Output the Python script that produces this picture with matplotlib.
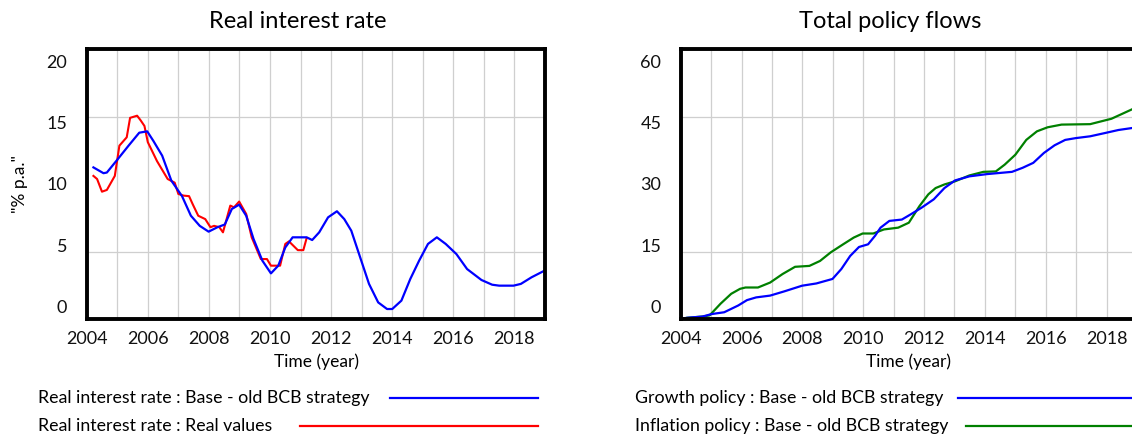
import matplotlib

matplotlib.use("Agg")
import matplotlib.pyplot as plt
from matplotlib.lines import Line2D
from matplotlib.ticker import FixedLocator, MultipleLocator

plt.rcParams["font.family"] = ["Lato", "DejaVu Sans"]

FIG_W, FIG_H = 1132, 437

# Real interest rate : Base - old BCB strategy
rate_base_years = [
    2004.22, 2004.55, 2004.66, 2005.02, 2005.37, 2005.72, 2005.98, 2006.18,
    2006.47, 2006.77, 2007.12, 2007.41, 2007.70, 2007.99, 2008.28, 2008.52,
    2008.75, 2008.99, 2009.22, 2009.46, 2009.75, 2010.03, 2010.27, 2010.50,
    2010.74, 2011.20, 2011.38, 2011.61, 2011.90, 2012.19, 2012.43, 2012.66,
    2012.95, 2013.24, 2013.54, 2013.83, 2014.00, 2014.30, 2014.59, 2014.88,
    2015.17, 2015.46, 2015.75, 2016.10, 2016.45, 2016.92, 2017.27, 2017.50,
    2017.97, 2018.21, 2018.56, 2019.00,
]
rate_base = [
    11.23, 10.80, 10.85, 11.85, 12.84, 13.80, 13.90, 13.20,
    12.10, 10.25, 9.10, 7.65, 6.90, 6.47, 6.80, 7.00,
    8.15, 8.47, 7.65, 5.93, 4.32, 3.38, 3.95, 5.30,
    6.05, 6.05, 5.85, 6.42, 7.53, 7.98, 7.40, 6.54,
    4.57, 2.60, 1.23, 0.74, 0.74, 1.36, 2.96, 4.32,
    5.56, 6.05, 5.56, 4.81, 3.70, 2.89, 2.54, 2.47,
    2.47, 2.60, 3.09, 3.60,
]

# Real interest rate : Real values
rate_real_years = [
    2004.22, 2004.34, 2004.50, 2004.66, 2004.92, 2005.07, 2005.31, 2005.42,
    2005.65, 2005.77, 2005.89, 2006.00, 2006.30, 2006.65, 2006.88, 2007.00,
    2007.17, 2007.35, 2007.47, 2007.65, 2007.88, 2008.05, 2008.17, 2008.34,
    2008.46, 2008.70, 2008.82, 2008.99, 2009.22, 2009.40, 2009.70, 2009.90,
    2010.03, 2010.33, 2010.50, 2010.62, 2010.91, 2011.09, 2011.20,
]
rate_real = [
    10.60, 10.37, 9.43, 9.56, 10.60, 12.84, 13.46, 14.90,
    15.06, 14.70, 14.30, 13.10, 11.70, 10.37, 10.10, 9.26,
    9.14, 9.10, 8.50, 7.65, 7.40, 6.80, 6.90, 6.80,
    6.42, 8.40, 8.27, 8.70, 7.78, 6.05, 4.44, 4.44,
    3.95, 3.95, 5.56, 5.75, 5.10, 5.10, 6.00,
]

# Growth policy : Base - old BCB strategy
growth_years = [
    2004.00, 2004.20, 2004.72, 2005.02, 2005.43, 2005.89, 2006.18, 2006.48,
    2006.94, 2007.41, 2007.99, 2008.46, 2008.99, 2009.28, 2009.57, 2009.86,
    2010.16, 2010.39, 2010.57, 2010.86, 2011.27, 2011.56, 2011.91, 2012.32,
    2012.67, 2013.02, 2013.49, 2014.07, 2014.89, 2015.24, 2015.59, 2015.94,
    2016.29, 2016.64, 2016.99, 2017.46, 2017.93, 2018.39, 2019.00,
]
growth = [
    0.0, 0.26, 0.55, 1.10, 1.50, 3.00, 4.20, 4.80,
    5.20, 6.15, 7.40, 7.90, 8.90, 11.10, 14.00, 16.00,
    16.60, 18.50, 20.30, 21.80, 22.10, 23.25, 24.70, 26.60,
    29.10, 30.80, 31.70, 32.20, 32.70, 33.60, 34.70, 36.90,
    38.60, 39.80, 40.20, 40.60, 41.30, 42.00, 42.60,
]

# Inflation policy : Base - old BCB strategy
inflation_years = [
    2004.00, 2004.20, 2004.72, 2004.95, 2005.31, 2005.66, 2005.95, 2006.13,
    2006.54, 2006.94, 2007.35, 2007.76, 2008.23, 2008.58, 2008.93, 2009.34,
    2009.69, 2009.98, 2010.33, 2010.68, 2011.15, 2011.50, 2011.85, 2012.14,
    2012.38, 2012.67, 2013.02, 2013.49, 2013.95, 2014.36, 2014.65, 2015.00,
    2015.36, 2015.71, 2016.06, 2016.52, 2017.46, 2018.16, 2019.00,
]
inflation = [
    0.0, 0.26, 0.55, 0.80, 3.40, 5.60, 6.70, 7.00,
    7.00, 8.10, 10.00, 11.60, 11.80, 12.90, 14.80, 16.60,
    18.10, 19.00, 19.00, 19.90, 20.30, 21.40, 25.10, 27.70,
    29.10, 29.90, 30.60, 31.90, 32.70, 32.80, 34.30, 36.50,
    39.80, 41.70, 42.60, 43.20, 43.30, 44.50, 47.10,
]

year_ticks = [2004, 2006, 2008, 2010, 2012, 2014, 2016, 2018]
rate_ticks = [0, 5, 10, 15, 20]
flow_ticks = [0, 15, 30, 45, 60]


def px_box(left, top, right, bottom):
    """Convert pixel box (origin top-left) into figure fractions."""
    return [left / FIG_W, 1 - bottom / FIG_H, (right - left) / FIG_W, (bottom - top) / FIG_H]


def style_axes(ax, yticks):
    """Vensim-like frame, grid every year, labels spread inside the frame."""
    ymin, ymax = yticks[0], yticks[-1]
    ax.set_xlim(2004, 2019)
    ax.set_ylim(ymin, ymax)
    ax.xaxis.set_major_locator(FixedLocator(year_ticks))
    ax.xaxis.set_minor_locator(MultipleLocator(1))
    ax.set_xticklabels([str(y) for y in year_ticks])
    # vensim draws the value labels slightly pulled towards the middle
    n = len(yticks) - 1
    span = ymax - ymin
    label_pos = [ymin + (0.048 + i * 0.904 / n) * span for i in range(n + 1)]
    ax.yaxis.set_major_locator(FixedLocator(label_pos))
    ax.set_yticklabels([str(v) for v in yticks])
    ax.yaxis.set_minor_locator(FixedLocator(yticks[1:-1]))
    ax.grid(False)
    ax.xaxis.grid(True, which="both", color="#cfcfcf", lw=0.9)
    ax.yaxis.grid(True, which="minor", color="#cfcfcf", lw=0.9)
    ax.tick_params(which="both", length=0, labelsize=13, colors="#111111")
    ax.tick_params(axis="y", pad=14)
    ax.tick_params(axis="x", pad=9)
    for sp in ax.spines.values():
        sp.set_linewidth(2.8)
        sp.set_color("black")
    ax.set_axisbelow(True)


fig = plt.figure(figsize=(FIG_W / 100, FIG_H / 100), dpi=100)

ax1 = fig.add_axes(px_box(86.7, 49, 545, 319))
ax1.plot(rate_real_years, rate_real, color="#ff0000", lw=1.5)
ax1.plot(rate_base_years, rate_base, color="#0000ff", lw=1.6)
style_axes(ax1, rate_ticks)

ax2 = fig.add_axes(px_box(680.7, 49, 1137, 319))
ax2.plot(inflation_years, inflation, color="#008000", lw=1.6)
ax2.plot(growth_years, growth, color="#0000ff", lw=1.6)
style_axes(ax2, flow_ticks)

# titles and axis labels
fig.text(298 / FIG_W, 1 - 22 / FIG_H, "Real interest rate", fontsize=17, ha="center", va="center")
fig.text(890 / FIG_W, 1 - 22 / FIG_H, "Total policy flows", fontsize=17, ha="center", va="center")
fig.text(20 / FIG_W, 1 - 184 / FIG_H, '"% p.a."', fontsize=12.5, rotation=90, ha="center", va="center")
fig.text(316 / FIG_W, 1 - 362 / FIG_H, "Time (year)", fontsize=12.5, ha="center", va="center")
fig.text(909 / FIG_W, 1 - 362 / FIG_H, "Time (year)", fontsize=12.5, ha="center", va="center")

# legend rows below each chart
legend_rows = [
    (38, 398, 390, 538, "Real interest rate : Base - old BCB strategy", "#0000ff"),
    (38, 426, 300, 538, "Real interest rate : Real values", "#ff0000"),
    (635, 398, 958, 1140, "Growth policy : Base - old BCB strategy", "#0000ff"),
    (635, 426, 966, 1140, "Inflation policy : Base - old BCB strategy", "#008000"),
]
for tx, ty, lx0, lx1, label, color in legend_rows:
    fig.text(tx / FIG_W, 1 - ty / FIG_H, label, fontsize=12.8, ha="left", va="center")
    fig.add_artist(Line2D([lx0 / FIG_W, lx1 / FIG_W], [1 - ty / FIG_H, 1 - ty / FIG_H],
                          color=color, lw=1.6, transform=fig.transFigure))

fig.savefig("out.png", dpi=100)
